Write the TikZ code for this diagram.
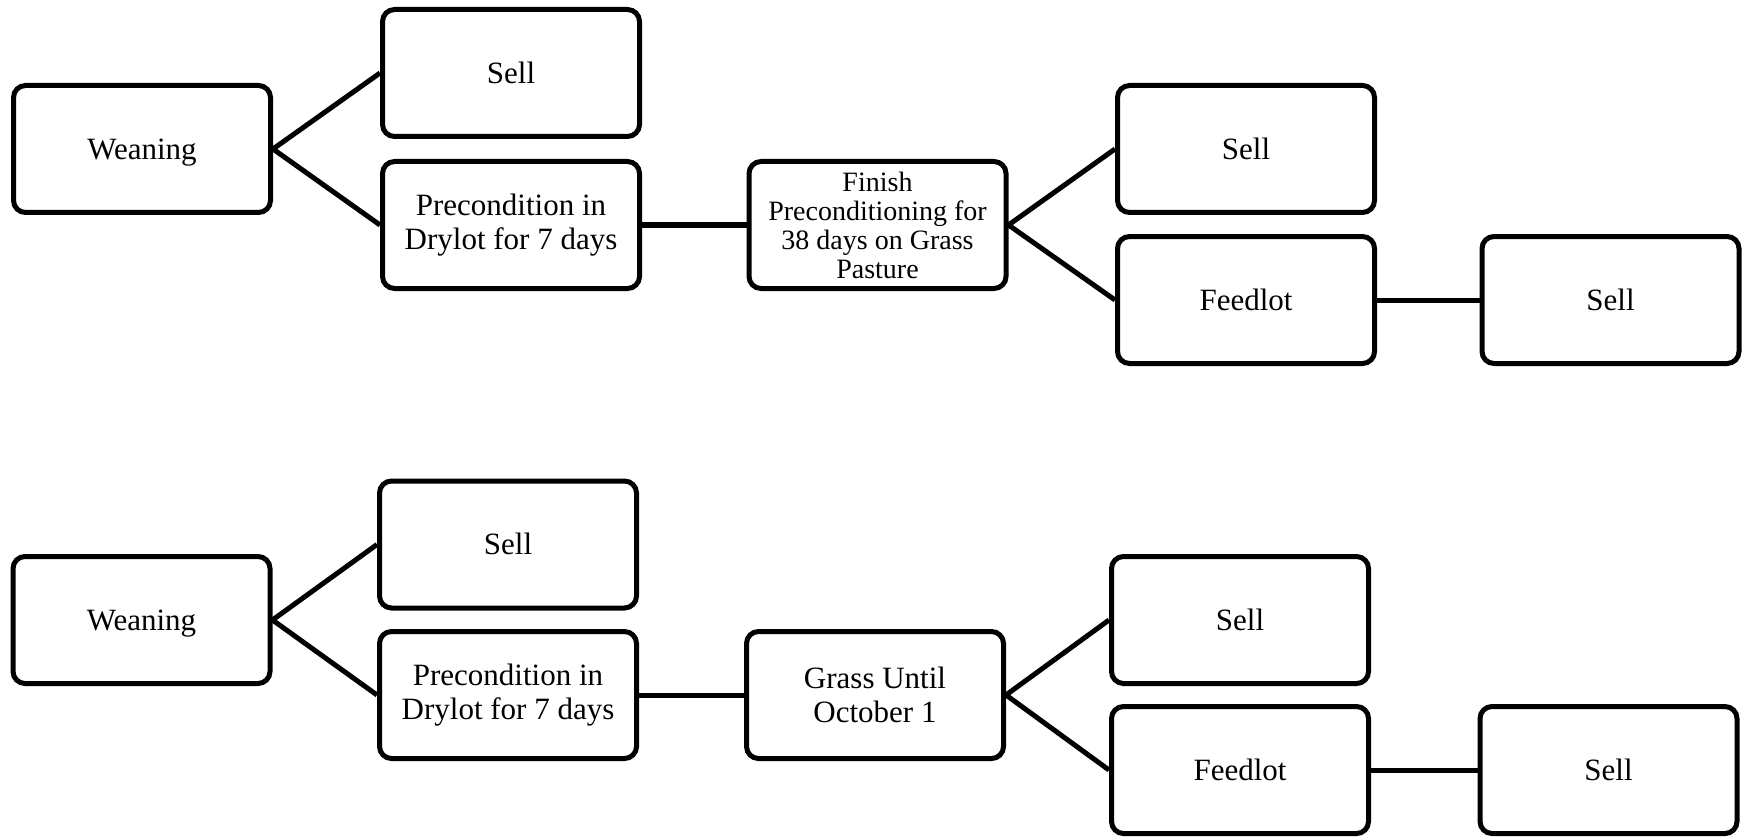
\documentclass[tikz,border=0pt]{standalone}
\usepackage{fontspec}
\setmainfont{Liberation Serif}
\begin{document}
\begin{tikzpicture}[x=1pt,y=-1pt,
  box/.style={draw=black, line width=5pt, rounded corners=12pt, minimum width=257pt, minimum height=127pt, inner sep=0pt, align=center, font=\fontsize{31}{34.5}\selectfont},
  onebox/.style={box, text height=20.5pt, text depth=0pt},
  smallbox/.style={box, font=\fontsize{28}{29}\selectfont},
  link/.style={draw=black, line width=5pt}]
\useasboundingbox (0,0) rectangle (1745,837);
% top diagram
\node[onebox] (w1) at (142,149) {Weaning};
\node[onebox] (s1) at (511,73) {Sell};
\node[box] (p1) at (511,225) {Precondition in\\Drylot for 7 days};
\node[smallbox] (f1) at (877.5,225) {Finish\\Preconditioning for\\38 days on Grass\\Pasture};
\node[onebox] (s2) at (1246,149) {Sell};
\node[onebox] (fl1) at (1246,300) {Feedlot};
\node[onebox] (s3) at (1610.5,300) {Sell};
\draw[link] (s1.west) -- (w1.east) -- (p1.west);
\draw[link] (p1.east) -- (f1.west);
\draw[link] (s2.west) -- (f1.east) -- (fl1.west);
\draw[link] (fl1.east) -- (s3.west);
% bottom diagram
\node[onebox] (w2) at (141.5,620) {Weaning};
\node[onebox] (s4) at (508,544.5) {Sell};
\node[box] (p2) at (508,695) {Precondition in\\Drylot for 7 days};
\node[box] (g) at (875,695) {Grass Until\\October 1};
\node[onebox] (s5) at (1240,620) {Sell};
\node[onebox] (fl2) at (1240,770) {Feedlot};
\node[onebox] (s6) at (1608.5,770) {Sell};
\draw[link] (s4.west) -- (w2.east) -- (p2.west);
\draw[link] (p2.east) -- (g.west);
\draw[link] (s5.west) -- (g.east) -- (fl2.west);
\draw[link] (fl2.east) -- (s6.west);
\end{tikzpicture}
\end{document}
